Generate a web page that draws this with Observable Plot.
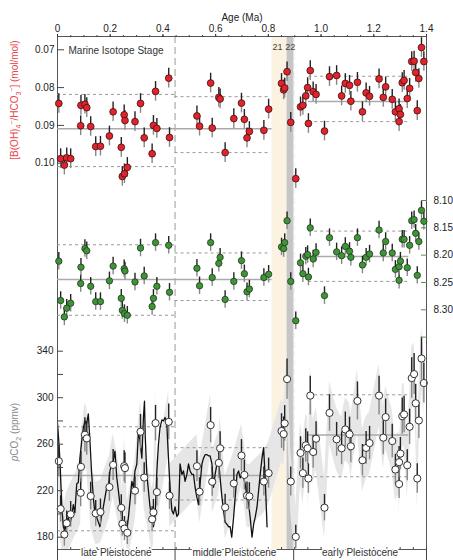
<!DOCTYPE html>
<html><head><meta charset="utf-8">
<script src="https://cdn.jsdelivr.net/npm/d3@7"></script>
<script src="https://cdn.jsdelivr.net/npm/@observablehq/plot@0.6"></script>
<style>
body{margin:0;background:#fff;}
#wrap{position:relative;width:453px;height:560px;font-family:"Liberation Sans",Arial,sans-serif;overflow:hidden;}
#wrap svg{position:absolute;left:0;top:0;}
.ylab{position:absolute;white-space:nowrap;font-size:10px;line-height:10px;transform:translate(-50%,-50%) rotate(-90deg);}
.ylab sub,.ylab sup{font-size:7px;line-height:0;}
</style></head><body><div id="wrap"></div>
<script>
// ---- boron-based record (ages in Ma) ----
const ages  = [0.005,0.012,0.026,0.035,0.050,0.088,0.089,0.104,0.111,0.126,0.145,0.163,0.197,0.211,0.242,0.246,0.253,0.256,0.254,0.265,0.294,0.315,0.329,0.359,0.364,0.372,0.377,0.422,0.425,0.529,0.539,0.581,0.587,0.612,0.617,0.636,0.669,0.698,0.709,0.719,0.728,0.783,0.801,0.850,0.858,0.862,0.871,0.885,0.904,0.922,0.931,0.942,0.949,0.952,0.959,0.970,0.981,1.013,1.032,1.059,1.078,1.092,1.108,1.113,1.138,1.157,1.171,1.184,1.220,1.236,1.245,1.270,1.282,1.296,1.296,1.301,1.308,1.315,1.327,1.336,1.344,1.353,1.359,1.365,1.371,1.381,1.390];
const ratio = [0.0842,0.0988,0.1005,0.0986,0.0988,0.0901,0.0847,0.0844,0.0853,0.0903,0.0956,0.0955,0.0928,0.0864,0.0958,0.1035,0.0872,0.0887,0.1028,0.1011,0.0890,0.0842,0.0933,0.0975,0.0900,0.0810,0.0908,0.0775,0.0932,0.0875,0.0902,0.0788,0.0907,0.0826,0.0830,0.0972,0.0882,0.0841,0.0884,0.0933,0.0916,0.0913,0.0857,0.0789,0.0806,0.0801,0.0758,0.0892,0.1041,0.0851,0.0847,0.0822,0.0800,0.0895,0.0755,0.0811,0.0818,0.0915,0.0771,0.0768,0.0822,0.0789,0.0794,0.0836,0.0786,0.0864,0.0814,0.0823,0.0777,0.0826,0.0798,0.0831,0.0864,0.0856,0.0890,0.0871,0.0787,0.0781,0.0829,0.0802,0.0731,0.0730,0.0760,0.0861,0.0776,0.0694,0.0731];
const pH    = [8.211,8.283,8.313,8.297,8.288,8.252,8.222,8.188,8.192,8.257,8.285,8.285,8.247,8.220,8.279,8.301,8.225,8.229,8.307,8.310,8.249,8.187,8.238,8.294,8.279,8.177,8.257,8.182,8.268,8.224,8.256,8.177,8.241,8.215,8.204,8.281,8.248,8.210,8.234,8.267,8.262,8.241,8.235,8.185,8.188,8.177,8.137,8.248,8.320,8.214,8.234,8.202,8.199,8.240,8.150,8.207,8.195,8.274,8.168,8.194,8.201,8.184,8.193,8.204,8.168,8.218,8.204,8.198,8.154,8.196,8.175,8.196,8.226,8.221,8.246,8.211,8.171,8.171,8.223,8.182,8.137,8.135,8.160,8.237,8.175,8.118,8.138];
const pco2  = [245.4,204.3,182.3,192.0,199.7,218.2,240.5,268.1,265.0,215.4,200.5,201.7,223.1,242.2,205.2,191.5,241.1,239.4,187.4,183.8,220.0,270.7,231.3,195.4,201.4,278.1,218.8,279.2,215.7,241.1,219.1,276.4,227.7,243.9,256.5,205.7,226.2,250.2,233.6,215.7,215.1,227.9,235.1,271.3,268.7,277.9,316.0,227.9,180.3,252.5,235.1,259.0,256.5,230.5,301.8,253.3,264.7,205.4,286.9,264.2,256.5,272.7,268.5,258.2,297.2,246.2,256.8,261.0,301.8,265.6,283.3,262.7,238.2,244.5,225.7,251.9,284.1,285.6,241.9,275.0,316.9,320.3,295.2,230.5,280.4,333.7,312.6];
const ratioErr = 0.0026, pHErr = 0.016, pco2RelErr = 0.055, pco2Band = 27;

// ---- ice-core CO2 ----
const iceAge = [0,0.005,0.0095,0.016,0.022,0.028,0.035,0.041,0.047,0.054,0.060,0.066,0.073,0.079,0.085,0.092,0.098,0.104,0.110,0.117,0.123,0.129,0.136,0.142,0.149,0.155,0.161,0.167,0.174,0.180,0.187,0.193,0.199,0.206,0.212,0.218,0.225,0.231,0.237,0.244,0.250,0.256,0.263,0.269,0.275,0.282,0.288,0.294,0.301,0.307,0.313,0.320,0.326,0.330,0.333,0.339,0.345,0.351,0.358,0.364,0.370,0.377,0.383,0.389,0.396,0.402,0.408,0.415,0.421,0.427,0.434,0.440,0.446,0.453,0.459,0.465,0.472,0.478,0.484,0.491,0.497,0.503,0.510,0.516,0.522,0.529,0.535,0.541,0.548,0.554,0.560,0.567,0.573,0.579,0.586,0.592,0.598,0.605,0.611,0.617,0.624,0.630,0.636,0.643,0.649,0.655,0.661,0.668,0.674,0.681,0.687,0.693,0.700,0.706,0.712,0.719,0.725,0.731,0.738,0.744,0.750,0.757,0.763,0.769,0.776,0.782,0.788,0.795];
const iceCO2 = [278,262,245,208,189,186,193,197,191,198,208,201,226,227,248,263,274,280,277,286,263,237,214,200,197,193,189,198,206,214,223,223,237,243,246,254,231,220,208,197,187,183,186,197,211,228,223,237,243,271,263,248,283,297,266,234,220,206,197,189,197,237,260,274,281,280,283,276,248,223,203,200,206,198,200,243,234,237,228,234,243,237,234,234,223,214,208,226,243,248,251,251,250,250,243,223,234,243,246,231,214,203,193,191,189,189,180,197,214,234,237,231,234,231,226,214,209,197,180,191,197,206,220,234,248,257,231,189];

// ---- reference levels (mean solid, ±range dashed) ----
const rangeX1 = [0, 0.446, 0.953], rangeX2 = [0.446, 0.81, 1.333];
const meanX1 = [0, 0.953], meanX2 = [0.814, 1.333];
const ratioMean = [0.0909, 0.0837], ratioHi = [0.0818, 0.0824, 0.0770], ratioLo = [0.1009, 0.0972, 0.0890];
const pHMean = [8.2446, 8.2025], pHHi = [8.181, 8.196, 8.156], pHLo = [8.310, 8.283, 8.248];
const pco2Mean = [233, 268], pco2Hi = [275, 257, 302.5], pco2Lo = [185.5, 212, 232];

// ---- annotations ----
const misLabels = ["21", "22"], misLabelAge = [0.835, 0.883];
const misBandStart = [0.814, 0.871], misBandEnd = [0.871, 0.897], misBandColor = ["#fbf2e2", "#c6c6c6"];
const epochNames = ["late Pleistocene", "middle Pleistocene", "early Pleistocene"];
const epochBounds = [0, 0.446, 0.896, 1.4];
const topTicks = [0, 0.2, 0.4, 0.6, 0.8, 1.0, 1.2, 1.4];
const ratioTicks = [0.07, 0.08, 0.09, 0.10];
const pHTicks = [8.10, 8.15, 8.20, 8.25, 8.30];
const pco2Ticks = [180, 220, 260, 300, 340];

const pts = ages.map((a, i) => ({age: a, ratio: ratio[i], pH: pH[i], pco2: pco2[i]}));
const ice = iceAge.map((a, i) => ({age: a, co2: iceCO2[i]}));
const sorted = pts.slice().sort((a, b) => a.age - b.age);
const means = (vals) => vals.map((v, i) => ({x1: meanX1[i], x2: meanX2[i], v}));
const ranges = (hi, lo) => hi.flatMap((v, i) => [{x1: rangeX1[i], x2: rangeX2[i], v}, {x1: rangeX1[i], x2: rangeX2[i], v: lo[i]}]);
const minorX = d3.range(0, 29).map(i => i * 0.05);

const common = {
  width: 453, height: 560, marginTop: 36, marginBottom: 11, marginLeft: 57, marginRight: 27,
  style: {background: "transparent", fontFamily: "'Liberation Sans', Arial, sans-serif", fontSize: "10px", color: "#222", overflow: "visible"}
};
const xs = {domain: [0, 1.4], label: null};
const wrap = document.getElementById("wrap");

// ---- layer A: background + pCO2 panel + frame ----
const layerA = Plot.plot({
  ...common,
  x: xs,
  y: {domain: [180, 340], range: [536.7, 350.7], label: null},
  marks: [
    Plot.rect(misBandStart, {x1: d => d, x2: (d, i) => misBandEnd[i], fill: (d, i) => misBandColor[i]}),
    Plot.ruleX([epochBounds[1]], {stroke: "#9a9a9a", strokeDasharray: "7,4"}),
    Plot.ruleX([epochBounds[2]], {stroke: "#e2e2e2", strokeWidth: 1.5, strokeDasharray: "6,3"}),
    Plot.areaY(sorted, {x: "age", y1: d => d.pco2 - pco2Band, y2: d => d.pco2 + pco2Band, fill: "#e6e6e6", clip: true}),
    Plot.ruleY(ranges(pco2Hi, pco2Lo), {x1: "x1", x2: "x2", y: "v", stroke: "#999", strokeDasharray: "3,3"}),
    Plot.ruleY(means(pco2Mean), {x1: "x1", x2: "x2", y: "v", stroke: "#aaa", strokeWidth: 1.5}),
    Plot.line(ice, {x: "age", y: "co2", stroke: "#111", strokeWidth: 1.3, clip: true}),
    Plot.ruleX(pts, {x: "age", y1: "pco2", y2: d => d.pco2 * (1 + pco2RelErr), stroke: "#222", strokeWidth: 1.4, clip: true}),
    Plot.ruleX(pts, {x: "age", y1: d => d.pco2 * (1 - pco2RelErr), y2: "pco2", stroke: "#888", strokeWidth: 1.4, clip: true}),
    Plot.dot(pts, {x: "age", y: "pco2", r: 3.6, fill: "white", stroke: "#333", strokeWidth: 1}),
    Plot.frame({stroke: "#555"}),
    Plot.axisY(pco2Ticks, {anchor: "left", tickSize: 0, tickPadding: 4, tickFormat: d => d, label: null}),
    Plot.axisY(d3.range(180, 341, 20), {anchor: "left", tickSize: 6, dx: 6, fill: "none", stroke: "#444", label: null}),
    Plot.axisX(minorX, {anchor: "bottom", tickSize: 2, dy: -2, fill: "none", stroke: "#444", label: null}),
    Plot.axisX(epochBounds, {anchor: "bottom", tickSize: 11, fill: "none", stroke: "#444", label: null}),
    Plot.text(epochNames, {x: (d, i) => (epochBounds[i] + epochBounds[i + 1]) / 2, text: d => d, frameAnchor: "bottom", dy: 6, fill: "#333", stroke: "white", strokeWidth: 3})
  ]
});
wrap.appendChild(layerA);

// ---- layer B: pH panel ----
const layerB = Plot.plot({
  ...common,
  x: {...xs, axis: null},
  y: {domain: [8.10, 8.30], range: [200, 309.3], label: null},
  marks: [
    Plot.ruleY(ranges(pHHi, pHLo), {x1: "x1", x2: "x2", y: "v", stroke: "#999", strokeDasharray: "3,3"}),
    Plot.ruleY(means(pHMean), {x1: "x1", x2: "x2", y: "v", stroke: "#aaa", strokeWidth: 1.5}),
    Plot.ruleX(pts, {x: "age", y1: d => d.pH - pHErr, y2: "pH", stroke: "#222", strokeWidth: 1.4}),
    Plot.ruleX(pts, {x: "age", y1: "pH", y2: d => d.pH + pHErr, stroke: "#888", strokeWidth: 1.4}),
    Plot.dot(pts, {x: "age", y: "pH", r: 3.2, fill: "#3f9438", stroke: "#1f3a1c", strokeWidth: 0.8}),
    Plot.axisY(pHTicks, {anchor: "right", tickSize: 0, tickPadding: 7, tickFormat: ".2f", label: null}),
    Plot.axisY(d3.range(0, 6).map(i => 8.10 + i * 0.05), {anchor: "right", tickSize: 6, dx: -6, fill: "none", stroke: "#5a8f50", label: null})
  ]
});
wrap.appendChild(layerB);

// ---- layer C: borate/bicarbonate panel + top axis ----
const layerC = Plot.plot({
  ...common,
  x: xs,
  y: {domain: [0.07, 0.10], range: [49.3, 162.7], label: null},
  marks: [
    Plot.ruleY(ranges(ratioHi, ratioLo), {x1: "x1", x2: "x2", y: "v", stroke: "#999", strokeDasharray: "3,3"}),
    Plot.ruleY(means(ratioMean), {x1: "x1", x2: "x2", y: "v", stroke: "#aaa", strokeWidth: 1.5}),
    Plot.ruleX(pts, {x: "age", y1: d => d.ratio - ratioErr, y2: "ratio", stroke: "#222", strokeWidth: 1.4}),
    Plot.ruleX(pts, {x: "age", y1: "ratio", y2: d => d.ratio + ratioErr, stroke: "#888", strokeWidth: 1.4}),
    Plot.dot(pts, {x: "age", y: "ratio", r: 3.4, fill: "#e3232b", stroke: "#3a1212", strokeWidth: 0.8}),
    Plot.axisY(ratioTicks, {anchor: "left", tickSize: 0, tickPadding: 3, tickFormat: ".2f", label: null}),
    Plot.axisY(ratioTicks, {anchor: "left", tickSize: 7, dx: 7, fill: "none", stroke: "#444", label: null}),
    Plot.axisX(topTicks, {anchor: "top", tickSize: 3, tickPadding: 2, tickFormat: d => d === 0 ? "0" : d3.format(".1f")(d), label: null}),
    Plot.axisX(minorX, {anchor: "top", tickSize: 2, fill: "none", stroke: "#444", label: null}),
    Plot.text(["Age (Ma)"], {text: d => d, frameAnchor: "top", dy: -23, fill: "#222"}),
    Plot.text(["Marine Isotope Stage"], {text: d => d, frameAnchor: "top-left", dx: 11, dy: 10, textAnchor: "start", fill: "#333"}),
    Plot.text(misLabels, {x: (d, i) => misLabelAge[i], text: d => d, frameAnchor: "top", dy: 7, fontSize: 9, fill: "#444"})
  ]
});
wrap.appendChild(layerC);

// ---- rotated axis titles ----
const l1 = document.createElement("div");
l1.className = "ylab";
l1.style.left = "15px"; l1.style.top = "100px"; l1.style.color = "#e8474c";
l1.innerHTML = "[B(OH)<sub>4</sub><sup>&minus;</sup>/HCO<sub>3</sub><sup>&minus;</sup>] (mol/mol)";
wrap.appendChild(l1);
const l2 = document.createElement("div");
l2.className = "ylab";
l2.style.left = "15px"; l2.style.top = "432px"; l2.style.color = "#8a8a8a";
l2.innerHTML = "<i>p</i>CO<sub>2</sub> (ppmv)";
wrap.appendChild(l2);
</script>
</body></html>
